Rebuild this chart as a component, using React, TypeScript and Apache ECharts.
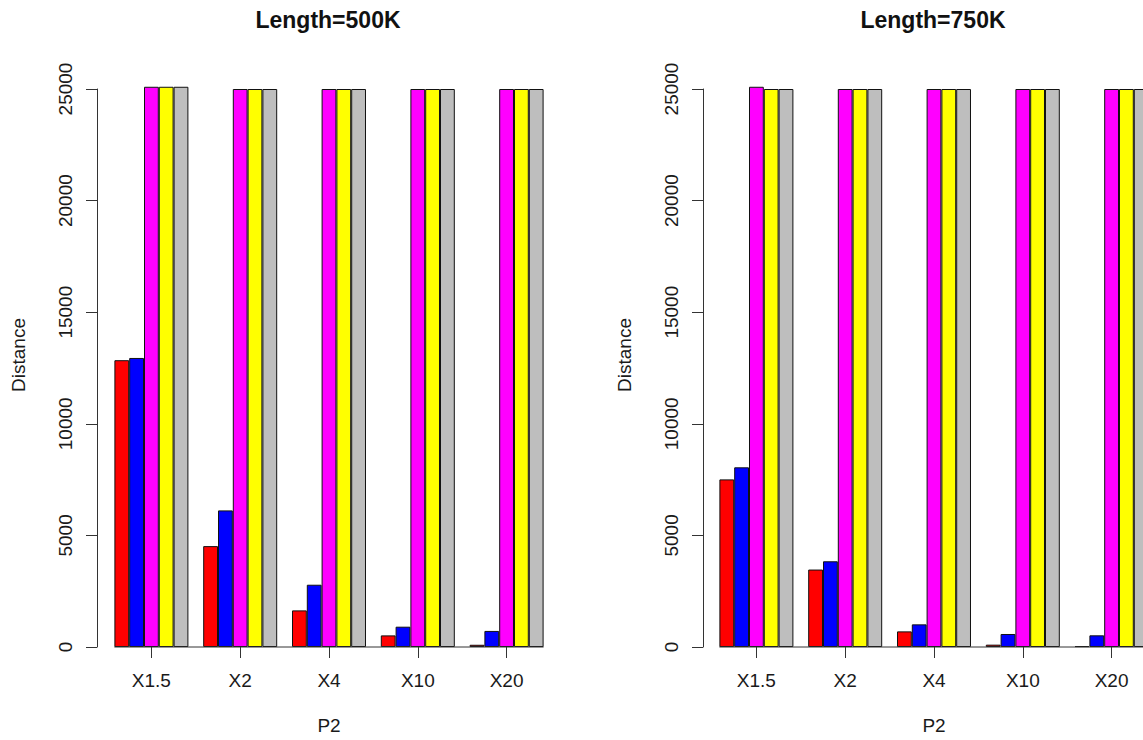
import React, { useEffect, useRef } from "react";
import * as echarts from "echarts";

const categories = ["X1.5", "X2", "X4", "X10", "X20"];
const seriesNames = ["S1", "S2", "S3", "S4", "S5"];
const seriesColors = ["#FF0000", "#0000FF", "#FF00FF", "#FFFF00", "#BEBEBE"];

// Length=500K
const left_s1 = [12850, 4520, 1640, 520, 100];
const left_s2 = [12950, 6120, 2790, 910, 720];
const left_s3 = [25100, 25000, 25000, 25000, 25000];
const left_s4 = [25100, 25000, 25000, 25000, 25000];
const left_s5 = [25100, 25000, 25000, 25000, 25000];

// Length=750K
const right_s1 = [7510, 3470, 700, 105, 40];
const right_s2 = [8050, 3840, 1015, 583, 523];
const right_s3 = [25100, 25000, 25000, 25000, 25000];
const right_s4 = [25000, 25000, 25000, 25000, 25000];
const right_s5 = [25000, 25000, 25000, 25000, 25000];

const yTicks = { min: 0, max: 25000, interval: 5000 };
const titles = ["Length=500K", "Length=750K"];

const FONT = "'Liberation Sans', Arial, sans-serif";

export default function App() {
  const ref = useRef<HTMLDivElement>(null);
  useEffect(() => {
    if (!ref.current) return;
    const chart = echarts.init(ref.current, null, { renderer: "svg" });
    const panels = [
      { left: 107, axisOffset: 10, data: [left_s1, left_s2, left_s3, left_s4, left_s5] },
      { left: 712, axisOffset: 9, data: [right_s1, right_s2, right_s3, right_s4, right_s5] },
    ];
    const gridW = 444;
    const gridTop = 89;
    const gridH = 558;
    const axisColor = "#333333";
    const textColor = "#1a1a1a";
    const baseFont = 19;
    const grids = panels.map((p) => ({ left: p.left, top: gridTop, width: gridW, height: gridH }));
    const xAxes = panels.map((p, i) => ({
      type: "category",
      gridIndex: i,
      data: categories,
      boundaryGap: true,
      axisLine: { show: false },
      axisTick: { show: true, alignWithLabel: true, length: 11, lineStyle: { color: axisColor, width: 1 } },
      axisLabel: { margin: 24, fontSize: baseFont, color: textColor, fontFamily: FONT },
      name: "P2",
      nameLocation: "middle",
      nameGap: 69,
      nameTextStyle: { fontSize: baseFont, color: textColor, fontFamily: FONT },
      splitLine: { show: false },
    }));
    const yAxes = panels.map((p, i) => ({
      type: "value",
      gridIndex: i,
      min: yTicks.min,
      max: yTicks.max,
      interval: yTicks.interval,
      offset: p.axisOffset,
      axisLine: { show: true, lineStyle: { color: axisColor, width: 1 } },
      axisTick: { show: true, length: 11, lineStyle: { color: axisColor, width: 1 } },
      axisLabel: {
        rotate: 90,
        margin: 22,
        fontSize: baseFont,
        color: textColor,
        fontFamily: FONT,
        formatter: (v: number) => String(v),
      },
      splitLine: { show: false },
    }));
    const series: any[] = [];
    panels.forEach((p, i) => {
      p.data.forEach((vals, k) => {
        series.push({
          type: "bar",
          name: seriesNames[k],
          xAxisIndex: i,
          yAxisIndex: i,
          data: vals,
          barGap: "0%",
          barCategoryGap: "16.67%",
          clip: false,
          itemStyle: { color: seriesColors[k], borderColor: "#111", borderWidth: 1 },
        });
      });
    });
    const titleComps = titles.map((t, i) => ({
      text: t,
      left: panels[i].left + gridW / 2 - 6,
      top: 3,
      textAlign: "center",
      textStyle: { fontSize: 23, fontWeight: "bold", color: "#111", fontFamily: FONT },
    }));
    chart.setOption({
      animation: false,
      backgroundColor: "#ffffff",
      title: titleComps,
      grid: grids,
      xAxis: xAxes,
      yAxis: yAxes,
      series,
    });
    // baseline spanning from first to last bar of each panel, computed from the scales
    const graphics: any[] = [];
    panels.forEach((p, i) => {
      const x0 = chart.convertToPixel({ xAxisIndex: i } as any, categories[0]) as number;
      const x4 = chart.convertToPixel({ xAxisIndex: i } as any, categories[categories.length - 1]) as number;
      const band = (x4 - x0) / (categories.length - 1);
      const half = (band * 5) / 12;
      const y0 = chart.convertToPixel({ yAxisIndex: i } as any, 0) as number;
      graphics.push({
        type: "line",
        shape: { x1: x0 - half, y1: y0, x2: x4 + half, y2: y0 },
        style: { stroke: axisColor, lineWidth: 1 },
        z: 10,
      });
      graphics.push({
        type: "text",
        x: p.left - p.axisOffset - 79,
        y: 355,
        rotation: Math.PI / 2,
        style: {
          text: "Distance",
          fontSize: baseFont,
          fill: textColor,
          fontFamily: FONT,
          align: "center",
          verticalAlign: "middle",
        },
      });
    });
    chart.setOption({ graphic: graphics });
    return () => chart.dispose();
  }, []);
  return (
    <div style={{ position: "fixed", left: 0, top: 0, width: 1143, height: 740, overflow: "hidden", background: "#fff" }}>
      <div ref={ref} style={{ width: 1210, height: 740 }} />
    </div>
  );
}
